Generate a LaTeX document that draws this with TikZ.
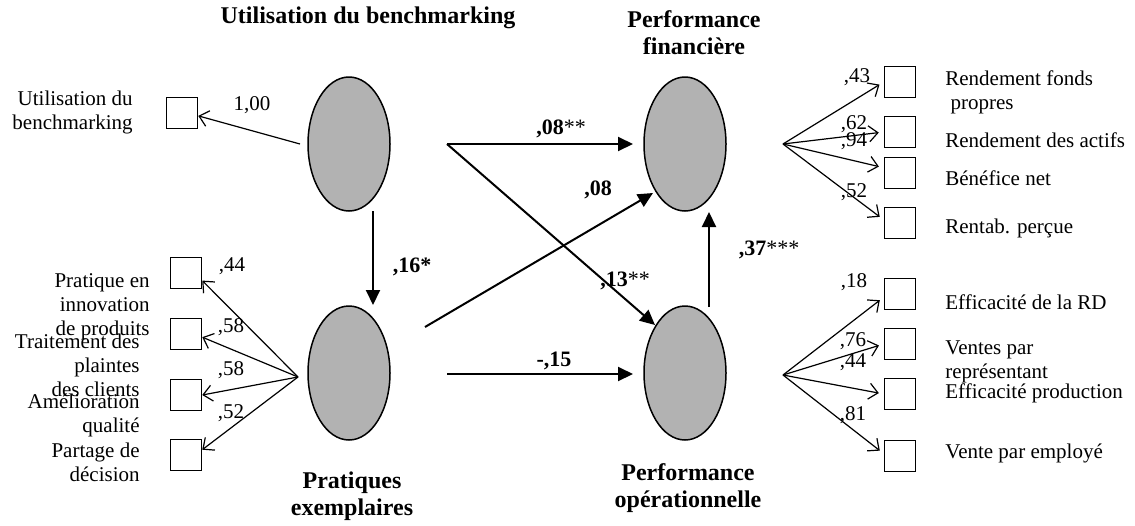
\documentclass[tikz,border=0pt]{standalone}
\usepackage{fontspec}
\setmainfont{Liberation Serif}
\usetikzlibrary{arrows.meta,shapes.geometric}
\definecolor{latgray}{RGB}{178,178,178}
\begin{document}
\begin{tikzpicture}[x=0.5pt,y=-0.5pt,
  lat/.style={ellipse, draw, line width=0.75pt, fill=latgray, minimum width=41pt, minimum height=67pt, inner sep=0pt},
  obs/.style={draw, line width=0.75pt, minimum size=15.5pt, inner sep=0pt},
  mainarr/.style={line width=1pt, -{Triangle[length=7.5pt,width=7pt]}},
  loadarr/.style={line width=0.6pt, -{Straight Barb[length=4.5pt,width=8pt]}},
  ttl/.style={font=\bfseries\fontsize{12}{13.5}\selectfont, align=center, inner sep=0pt},
  lbl/.style={font=\fontsize{10.5}{12}\selectfont, inner sep=0pt},
  coef/.style={font=\fontsize{11}{13}\selectfont, inner sep=0pt}
]
\useasboundingbox (0,0) rectangle (1135,525);

% latent variables
\node[lat] (E1) at (349,144) {};
\node[lat] (E2) at (349,373) {};
\node[lat] (E3) at (685,144) {};
\node[lat] (E4) at (685,373) {};

% titles
\node[ttl] (T1) at (368,18) {Utilisation du benchmarking};
\node[ttl] (T3) at (694,33) {Performance\\financière};
\node[ttl] (T2) at (352,496) {Pratiques\\exemplaires};
\node[ttl] (T4) at (688,488) {Performance\\opérationnelle};

% structural arrows
\coordinate (a1) at (447,144);
\coordinate (a2) at (633,144);
\coordinate (a3) at (655,325);
\coordinate (a4) at (425,327);
\coordinate (a5) at (653,193);
\coordinate (a6) at (447,374);
\coordinate (a7) at (633,374);
\coordinate (a8) at (373,211);
\coordinate (a9) at (373,305);
\coordinate (a10) at (709,307);
\coordinate (a11) at (709,212);
\draw[mainarr] (a1) -- (a2);
\draw[mainarr] (a1) -- (a3);
\draw[mainarr] (a4) -- (a5);
\draw[mainarr] (a6) -- (a7);
\draw[mainarr] (a8) -- (a9);
\draw[mainarr] (a10) -- (a11);

\node[coef] (c1) at (561,129) {\textbf{,08}**};
\node[coef] (c2) at (625,281) {\textbf{,13}**};
\node[coef] (c3) at (598,190) {\textbf{,08}};
\node[coef] (c4) at (554,361) {\textbf{-,15}};
\node[coef] (c5) at (412,267) {\textbf{,16*}};
\node[coef] (c6) at (769,250) {\textbf{,37}***};

% benchmarking indicator
\node[obs] (bU) at (182,113) {};
\coordinate (fU) at (300,144);
\draw[loadarr] (fU) -- (bU.-10);
\node[lbl] (lU) at (252,105) {1,00};
\node[lbl, anchor=east, align=right] (tU) at (133,112) {Utilisation du\\benchmarking};

% best practices indicators
\node[obs] (bA) at (186,273) {};
\node[obs] (bB) at (186,334) {};
\node[obs] (bC) at (186,395) {};
\node[obs] (bD) at (186,455) {};
\coordinate (fL) at (298,377);
\draw[loadarr] (fL) -- (bA.-25);
\draw[loadarr] (fL) -- (bB.-11);
\draw[loadarr] (fL) -- (bC.east);
\draw[loadarr] (fL) -- (bD.18);
\node[lbl] (lA) at (232,266) {,44};
\node[lbl] (lB) at (231,327) {,58};
\node[lbl] (lC) at (231,370) {,58};
\node[lbl] (lD) at (231,413) {,52};
\node[lbl, anchor=east, align=right] (tA) at (150,307) {Pratique en\\innovation\\de produits};
\node[lbl, anchor=east, align=right] (tB) at (140,365) {Traitement des\\plaintes\\des clients};
\node[lbl, anchor=east, align=right] (tC) at (140,415) {Amélioration\\qualité};
\node[lbl, anchor=east, align=right] (tD) at (140,462) {Partage de\\décision};

% financial performance indicators
\node[obs] (r1) at (900,82) {};
\node[obs] (r2) at (900,132) {};
\node[obs] (r3) at (900,173) {};
\node[obs] (r4) at (900,223) {};
\coordinate (fR) at (783,144);
\draw[loadarr, shorten >=2.5pt] (fR) -- (r1.west);
\draw[loadarr, shorten >=2.5pt] (fR) -- (r2.west);
\draw[loadarr, shorten >=2.5pt] (fR) -- (r3.162);
\draw[loadarr, shorten >=2.5pt] (fR) -- (r4.169);
\node[lbl] (l1) at (857,77) {,43};
\node[lbl] (l2) at (854,124) {,62};
\node[lbl] (l3) at (854,141) {,94};
\node[lbl] (l4) at (854,192) {,52};
\node[lbl, anchor=west, align=left] (t1) at (945,92) {Rendement fonds\\\ propres};
\node[lbl, anchor=west] (t2) at (945,140) {Rendement des actifs};
\node[lbl, anchor=west] (t3) at (945,178) {Bénéfice net};
\node[lbl, anchor=west] (t4) at (945,228) {Rentab. perçue};

% operational performance indicators
\node[obs] (s1) at (900,294) {};
\node[obs] (s2) at (900,344) {};
\node[obs] (s3) at (900,394) {};
\node[obs] (s4) at (900,456) {};
\coordinate (fS) at (783,375);
\draw[loadarr, shorten >=2.5pt] (fS) -- (s1.191);
\draw[loadarr, shorten >=2.5pt] (fS) -- (s2.west);
\draw[loadarr, shorten >=2.5pt] (fS) -- (s3.west);
\draw[loadarr, shorten >=2.5pt] (fS) -- (s4.172);
\node[lbl] (m1) at (854,282) {,18};
\node[lbl] (m2) at (853,341) {,76};
\node[lbl] (m3) at (853,362) {,44};
\node[lbl] (m4) at (853,415) {,81};
\node[lbl, anchor=west] (u1) at (945,302) {Efficacité de la RD};
\node[lbl, anchor=west, align=left] (u2) at (945,362) {Ventes par\\représentant};
\node[lbl, anchor=west] (u3) at (945,393) {Efficacité production};
\node[lbl, anchor=west] (u4) at (945,453) {Vente par employé};
\end{tikzpicture}
\end{document}
